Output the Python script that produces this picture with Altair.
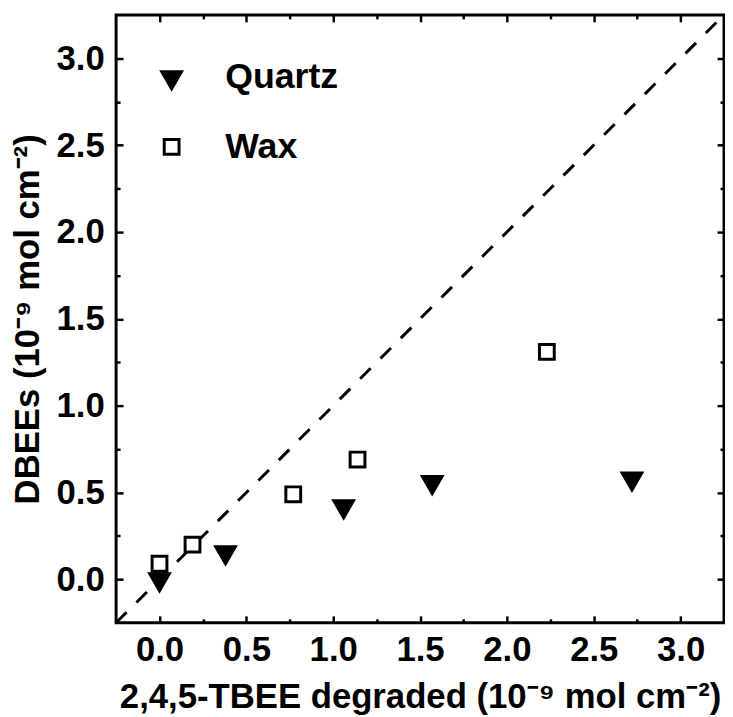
import altair as alt
import pandas as pd

series_names = ["Quartz", "Wax"]
quartz_x = [0.0, 0.38, 1.06, 1.57, 2.72]
quartz_y = [0.0, 0.155, 0.42, 0.56, 0.58]
wax_x = [0.0, 0.19, 0.77, 1.14, 2.23]
wax_y = [0.09, 0.20, 0.49, 0.69, 1.31]
diag = [-0.25, 3.25]
major_ticks = [0.0, 0.5, 1.0, 1.5, 2.0, 2.5, 3.0]
minor_ticks = [0.25, 0.75, 1.25, 1.75, 2.25, 2.75]

x_title = "2,4,5-TBEE degraded (10\u207b\u2079 mol cm\u207b\u00b2)"
y_title = "DBEEs (10\u207b\u2079 mol cm\u207b\u00b2)"

rows = []
for x, y in zip(wax_x, wax_y):
    rows.append({"x": x, "y": y, "series": "Wax"})
for x, y in zip(quartz_x, quartz_y):
    rows.append({"x": x, "y": y, "series": "Quartz"})
df = pd.DataFrame(rows)
line_df = pd.DataFrame({"x": diag, "y": diag})

FONT = "Liberation Sans"
FS = 35
LFS = 36
W, H = 613, 613
dom = [-0.25, 3.25]


def sc():
    return alt.Scale(domain=dom, nice=False, zero=False)


def label_axis(orient, title, pad, tpad):
    return alt.Axis(orient=orient, values=major_ticks, format=".1f", ticks=False, tickSize=0,
                    domain=False, grid=False, labelFont=FONT, labelFontSize=FS,
                    labelFontWeight="bold", labelColor="black", labelPadding=pad,
                    title=title, titleFont=FONT, titleFontSize=FS, titleFontWeight="bold",
                    titleColor="black", titlePadding=tpad, labelFlush=False, labelOverlap=False)


def tick_axis(orient, values, size):
    return alt.Axis(orient=orient, values=values, labels=False, title=None, domain=False,
                    grid=False, ticks=True, tickSize=size, tickWidth=2.5, tickColor="black",
                    offset=-size)


line = alt.Chart(line_df).mark_line(color="black", strokeWidth=3, strokeDash=[15, 14]).encode(
    x=alt.X("x:Q", scale=sc(), axis=label_axis("bottom", x_title, 10, 12)),
    y=alt.Y("y:Q", scale=sc(), axis=label_axis("left", y_title, 12, 11)),
)

tri = "M-1.1,-0.635L1.1,-0.635L0,1.27Z"
sq = "M-0.83,-0.83L0.83,-0.83L0.83,0.83L-0.83,0.83Z"

leg = alt.Legend(orient="none", legendX=38, legendY=45, title=None,
                 labelFont=FONT, labelFontSize=LFS, labelFontWeight="bold",
                 labelColor="black", symbolSize=324, labelOffset=36,
                 rowPadding=34, symbolStrokeWidth=3, padding=0)

points = alt.Chart(df).mark_point(size=324, strokeWidth=3, opacity=1,
                                  filled=True).encode(
    x=alt.X("x:Q", scale=sc(), axis=tick_axis("bottom", major_ticks, 7)),
    y=alt.Y("y:Q", scale=sc(), axis=tick_axis("left", major_ticks, 7)),
    shape=alt.Shape("series:N", scale=alt.Scale(domain=series_names, range=[tri, sq]),
                    legend=leg),
    fill=alt.Fill("series:N", scale=alt.Scale(domain=series_names, range=["black", "white"]),
                  legend=leg),
    stroke=alt.Stroke("series:N", scale=alt.Scale(domain=series_names, range=["black", "black"]),
                      legend=leg),
    order=alt.Order("order:Q"),
).transform_calculate(order="datum.series == 'Wax' ? 0 : 1")


def ghost(xax, yax):
    return alt.Chart(df).mark_point(opacity=0).encode(
        x=alt.X("x:Q", scale=sc(), axis=xax),
        y=alt.Y("y:Q", scale=sc(), axis=yax),
    )


g1 = ghost(tick_axis("bottom", minor_ticks, 4), tick_axis("left", minor_ticks, 4))
g2 = ghost(tick_axis("top", major_ticks, 7), tick_axis("right", major_ticks, 7))
g3 = ghost(tick_axis("top", minor_ticks, 4), tick_axis("right", minor_ticks, 4))

chart = alt.layer(line, points, g1, g2, g3).resolve_axis(
    x="independent", y="independent"
).properties(
    width=W, height=H,
    autosize=alt.AutoSizeParams(type="none"),
    padding={"left": 109, "top": 4, "right": 1, "bottom": 90},
    background="white",
).configure_view(stroke="black", strokeWidth=3)

chart.save("out.html", embed_options={"renderer": "svg", "actions": False})
